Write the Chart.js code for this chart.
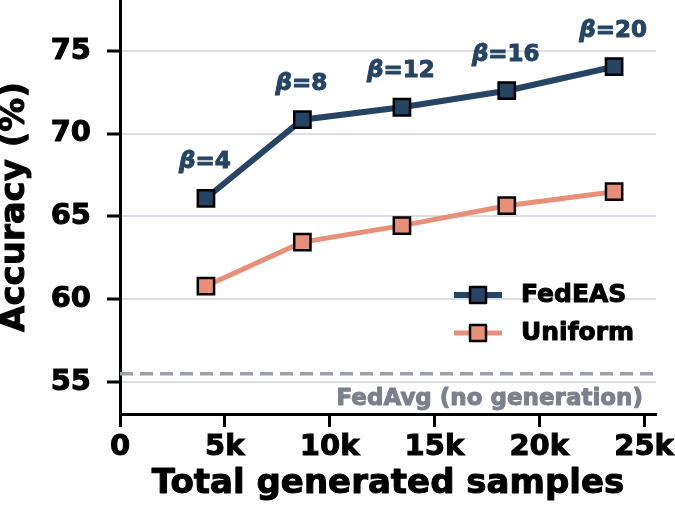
<!DOCTYPE html>
<html>
<head>
<meta charset="utf-8">
<script src="https://cdn.jsdelivr.net/npm/chart.js@4.4.1/dist/chart.umd.min.js"></script>
<style>
  html, body { margin: 0; padding: 0; background: #fff; }
  #wrap { width: 675px; height: 506px; position: relative; }
</style>
</head>
<body>
<div id="wrap"><canvas id="c"></canvas></div>
<script>
// ---- data ----
const samples = [4100, 8700, 13450, 18450, 23570];
const fedEAS = [66.1, 70.85, 71.6, 72.6, 74.05];
const uniform = [60.8, 63.45, 64.45, 65.65, 66.5];
const betaLabels = ['4', '8', '12', '16', '20'];
const fedAvg = 55.5;
const xTicks = [0, 5000, 10000, 15000, 20000, 25000];
const yTicks = [55, 60, 65, 70, 75];
const seriesNames = ['FedEAS', 'Uniform'];
const fedAvgLabel = 'FedAvg (no generation)';
const xTitle = 'Total generated samples';
const yTitle = 'Accuracy (%)';

const X_MIN = 0, X_MAX = 25570, Y_MIN = 53.067, Y_MAX = 78.08;
const NAVY = '#264464', SALMON = '#e88f7a', DASH = '#9aa1ac', GRID = '#dadde3';
const FAM = '"DejaVu Sans", sans-serif';
const SW = 1; // text stroke to mimic heavier glyphs

const pts = arr => samples.map((x, i) => ({ x: x, y: arr[i] }));

function heavyText(ctx, txt, x, y, color) {
  ctx.fillStyle = color; ctx.strokeStyle = color; ctx.lineWidth = SW; ctx.lineJoin = 'round';
  ctx.fillText(txt, x, y); ctx.strokeText(txt, x, y);
}

const annot = {
  id: 'annot',
  afterDatasetsDraw(chart) {
    const ctx = chart.ctx;
    const ca = chart.chartArea;
    const meta = chart.getDatasetMeta(0);
    ctx.save();
    ctx.textBaseline = 'middle';
    meta.data.forEach((p, i) => {
      const f1 = 'italic bold 23px ' + FAM;
      const f2 = 'bold 23px ' + FAM;
      ctx.font = f1; const w1 = ctx.measureText('β').width;
      ctx.font = f2; const w2 = ctx.measureText('=' + betaLabels[i]).width;
      const x0 = p.x - 1 - (w1 + w2) / 2;
      const y = p.y - 36;
      ctx.textAlign = 'left';
      ctx.font = f1; heavyText(ctx, 'β', x0, y, NAVY);
      ctx.font = f2; heavyText(ctx, '=' + betaLabels[i], x0 + w1, y, NAVY);
    });
    ctx.font = 'bold 23px ' + FAM;
    ctx.textAlign = 'right';
    heavyText(ctx, fedAvgLabel, ca.right - 13, ca.bottom - 15, '#7b818b');
    const colors = [NAVY, SALMON];
    const widths = [6, 5];
    const ly = [ca.top + 295, ca.top + 333];
    const lx0 = ca.right - 202, lx1 = ca.right - 154;
    for (let i = 0; i < 2; i++) {
      ctx.strokeStyle = colors[i];
      ctx.lineWidth = widths[i];
      ctx.beginPath(); ctx.moveTo(lx0, ly[i]); ctx.lineTo(lx1, ly[i]); ctx.stroke();
      const cx = (lx0 + lx1) / 2, s = 8;
      ctx.fillStyle = colors[i];
      ctx.fillRect(cx - s, ly[i] - s, 2 * s, 2 * s);
      ctx.strokeStyle = '#000'; ctx.lineWidth = 2.5;
      ctx.strokeRect(cx - s, ly[i] - s, 2 * s, 2 * s);
      ctx.font = 'bold 25px ' + FAM;
      ctx.textAlign = 'left';
      heavyText(ctx, seriesNames[i], ca.right - 135, ly[i], '#000');
    }
    // axis titles
    ctx.font = 'bold 34px ' + FAM;
    ctx.textAlign = 'center';
    heavyText(ctx, xTitle, (ca.left + ca.right) / 2, chart.height - 22, '#000');
    ctx.save();
    ctx.translate(15, (ca.top + ca.bottom) / 2);
    ctx.rotate(-Math.PI / 2);
    heavyText(ctx, yTitle, 0, 0, '#000');
    ctx.restore();
    ctx.restore();
  }
};

new Chart(document.getElementById('c'), {
  type: 'line',
  data: {
    datasets: [
      {
        label: seriesNames[0], data: pts(fedEAS),
        borderColor: NAVY, backgroundColor: NAVY, borderWidth: 6,
        pointStyle: 'rect', pointRadius: 11.5, pointBorderColor: '#000',
        pointBorderWidth: 2.5, pointBackgroundColor: NAVY, order: 1
      },
      {
        label: seriesNames[1], data: pts(uniform),
        borderColor: SALMON, backgroundColor: SALMON, borderWidth: 5,
        pointStyle: 'rect', pointRadius: 11.5, pointBorderColor: '#000',
        pointBorderWidth: 2.5, pointBackgroundColor: SALMON, order: 2
      },
      {
        label: fedAvgLabel, data: [{ x: X_MIN, y: fedAvg }, { x: X_MAX, y: fedAvg }],
        borderColor: DASH, borderWidth: 3.5, borderDash: [13, 7],
        pointRadius: 0, order: 3
      }
    ]
  },
  options: {
    responsive: true, maintainAspectRatio: false, animation: false,
    layout: { autoPadding: false, padding: { left: 0, right: 19, top: 0, bottom: 0 } },
    plugins: { legend: { display: false }, tooltip: { enabled: false } },
    scales: {
      x: {
        type: 'linear', min: X_MIN, max: X_MAX,
        afterBuildTicks: s => { s.ticks = xTicks.map(v => ({ value: v })); },
        afterFit: s => { s.height = 92; s.paddingLeft = 0; s.paddingRight = 0; },
        ticks: {
          callback: v => v === 0 ? '0' : (v / 1000) + 'k',
          font: { family: FAM, size: 29, weight: 'bold', lineHeight: 1.2 }, color: '#000',
          textStrokeColor: '#000', textStrokeWidth: SW,
          padding: 3, maxRotation: 0, autoSkip: false
        },
        grid: { display: true, drawOnChartArea: false, drawTicks: true, tickLength: 13, tickWidth: 3, tickColor: '#000' },
        border: { display: true, color: '#000', width: 3 },
        title: { display: false }
      },
      y: {
        type: 'linear', min: Y_MIN, max: Y_MAX,
        afterBuildTicks: s => { s.ticks = yTicks.map(v => ({ value: v })); },
        afterFit: s => { s.width = 120; s.paddingTop = 0; s.paddingBottom = 0; },
        ticks: {
          font: { family: FAM, size: 29, weight: 'bold' }, color: '#000',
          textStrokeColor: '#000', textStrokeWidth: SW, padding: 16
        },
        grid: { display: true, color: GRID, lineWidth: 2, drawTicks: true, tickLength: 13, tickWidth: 3, tickColor: '#000' },
        border: { display: true, color: '#000', width: 3 },
        title: { display: false }
      }
    }
  },
  plugins: [annot]
});
</script>
</body>
</html>
